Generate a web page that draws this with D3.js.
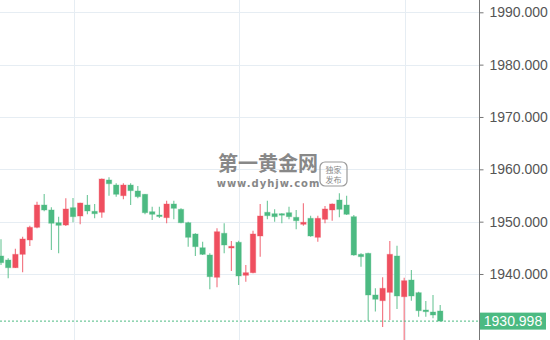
<!DOCTYPE html>
<html><head><meta charset="utf-8">
<script src="https://cdn.jsdelivr.net/npm/d3@7"></script>
<style>body{margin:0;background:#fff;}svg{display:block;font-family:"Liberation Sans",Arial,sans-serif;}</style>
</head><body>
<svg id="c" width="550" height="340"></svg>
<script>
const opens  = [1943.44,1942.67,1941.20,1943.76,1946.50,1948.92,1953.18,1952.23,1949.80,1949.36,1952.67,1951.08,1953.18,1951.98,1951.79,1957.96,1957.00,1954.96,1957.00,1955.86,1955.23,1951.90,1951.27,1950.76,1953.37,1952.36,1949.80,1947.64,1945.02,1943.63,1939.37,1947.78,1944.97,1946.06,1939.75,1940.25,1947.26,1951.79,1951.52,1951.52,1951.71,1950.83,1949.50,1950.64,1947.01,1950.45,1952.23,1954.14,1953.18,1950.95,1943.76,1943.95,1935.99,1934.90,1936.50,1943.44,1935.66,1938.85,1936.43,1933.12,1932.74,1932.93];
const highs  = [1946.63,1943.00,1944.83,1947.13,1949.23,1953.81,1955.28,1952.74,1950.95,1954.46,1954.52,1953.62,1955.09,1953.37,1958.25,1958.48,1957.33,1957.33,1957.33,1956.81,1955.28,1952.86,1952.86,1954.00,1954.00,1952.55,1949.99,1947.78,1946.17,1943.95,1948.73,1949.69,1946.30,1946.36,1941.72,1948.27,1953.37,1954.00,1952.36,1951.60,1952.86,1952.23,1953.51,1951.14,1951.14,1952.99,1953.47,1955.42,1954.96,1951.27,1943.95,1944.07,1937.27,1939.37,1946.30,1945.41,1939.29,1940.76,1936.62,1934.84,1935.99,1934.08];
const lows   = [1941.72,1939.18,1941.15,1940.32,1945.35,1948.73,1951.98,1944.59,1943.95,1949.17,1949.88,1949.50,1951.41,1950.64,1950.76,1954.96,1954.77,1954.27,1953.18,1954.46,1951.41,1950.32,1950.70,1949.69,1950.45,1949.69,1945.22,1943.44,1943.63,1937.08,1937.46,1943.95,1940.57,1937.90,1938.53,1940.13,1943.31,1950.45,1949.99,1949.69,1950.45,1948.54,1949.23,1947.13,1946.17,1949.69,1950.18,1950.83,1951.27,1943.50,1941.39,1931.02,1932.84,1929.87,1931.21,1933.31,1925.48,1934.90,1931.84,1931.84,1931.54,1930.998];
const closes = [1942.16,1941.20,1943.76,1946.69,1948.92,1953.18,1952.23,1949.69,1949.30,1952.42,1950.95,1953.56,1952.04,1951.52,1958.15,1957.25,1955.23,1957.00,1955.92,1954.77,1951.71,1951.41,1951.08,1953.37,1952.55,1949.80,1947.01,1945.22,1943.76,1939.48,1948.08,1945.54,1945.29,1939.62,1940.25,1947.64,1951.08,1951.14,1950.95,1951.33,1950.95,1950.18,1949.88,1947.26,1950.64,1952.42,1953.37,1952.36,1951.41,1943.63,1943.31,1935.99,1935.17,1937.27,1943.76,1935.80,1938.72,1935.80,1932.99,1932.80,1932.17,1930.998];
const yTicks = [1940,1950,1960,1970,1980,1990];
const vGridIdx = [10.1,33.05,56.1];
const lastPrice = 1930.998;

const W = 550, H = 340;
const svg = d3.select("#c");
const idx = d3.range(opens.length);
const x = d3.scaleLinear().domain([0, opens.length-1]).range([1, 440.2]);
const y = d3.scaleLinear().domain([1927.39, 1992.35]).range([340, 0]);
const axisX = 479;
const RED = "#ef4f5f", GREEN = "#4cba82";

// grid
svg.append("g").selectAll("line").data(yTicks).join("line")
  .attr("x1",0).attr("x2",axisX).attr("y1",d=>Math.round(y(d))+0.5).attr("y2",d=>Math.round(y(d))+0.5)
  .attr("stroke","#e6edf3").attr("stroke-width",1);
svg.append("g").selectAll("line").data(vGridIdx).join("line")
  .attr("x1",d=>Math.round(x(d))+0.5).attr("x2",d=>Math.round(x(d))+0.5).attr("y1",0).attr("y2",H)
  .attr("stroke","#e6edf3").attr("stroke-width",1);

// watermark
const wm = svg.append("g");
wm.append("text").attr("x",268).attr("y",171).attr("text-anchor","middle")
  .attr("font-family","'Noto Sans CJK SC',sans-serif").attr("font-weight","bold").attr("font-size",20)
  .attr("fill","#888").text("第一黄金网");
wm.append("text").attr("x",268.5).attr("y",186.5).attr("text-anchor","middle")
  .attr("font-family","'DejaVu Sans',sans-serif").attr("font-weight","bold").attr("font-size",10)
  .attr("letter-spacing",1).attr("fill","#888").text("www.dyhjw.com");
wm.append("rect").attr("x",320).attr("y",162).attr("width",27).attr("height",24).attr("rx",5)
  .attr("fill","none").attr("stroke","#9a9a9a").attr("stroke-width",1.2);
wm.append("text").attr("x",333.5).attr("y",172.5).attr("text-anchor","middle")
  .attr("font-family","'Noto Sans CJK SC',sans-serif").attr("font-size",8).attr("fill","#888").text("独家");
wm.append("text").attr("x",333.5).attr("y",182.5).attr("text-anchor","middle")
  .attr("font-family","'Noto Sans CJK SC',sans-serif").attr("font-size",8).attr("fill","#888").text("发布");

// candles
const col = i => closes[i] > opens[i] ? RED : GREEN;
const cg = svg.append("g");
cg.selectAll("line.w").data(idx).join("line").attr("class","w")
  .attr("x1",i=>x(i)).attr("x2",i=>x(i)).attr("y1",i=>y(highs[i])).attr("y2",i=>y(lows[i]))
  .attr("stroke",col).attr("stroke-opacity",0.75).attr("stroke-width",1.2);
cg.selectAll("rect").data(idx).join("rect")
  .attr("x",i=>x(i)-2.7).attr("width",5.4)
  .attr("y",i=>y(Math.max(opens[i],closes[i])))
  .attr("height",i=>Math.max(1.5, Math.abs(y(opens[i])-y(closes[i]))))
  .attr("fill",col).attr("stroke",col).attr("stroke-opacity",0.35).attr("stroke-width",1);

// last price line
svg.append("line").attr("x1",0).attr("x2",axisX).attr("y1",y(lastPrice)).attr("y2",y(lastPrice))
  .attr("stroke",GREEN).attr("stroke-width",1).attr("stroke-dasharray","2,2");

// axis
const ax = svg.append("g").attr("transform",`translate(${axisX+0.5},0)`)
  .call(d3.axisRight(y).tickValues(yTicks).tickSize(4).tickPadding(6).tickFormat(d3.format(".3f")));
ax.select(".domain").attr("stroke","#777").attr("d",`M0,0V${H}`);
ax.selectAll(".tick line").attr("stroke","#777");
ax.selectAll(".tick text").attr("fill","#555").attr("font-size",14).attr("font-family","'Liberation Sans',Arial,sans-serif");

// price label
svg.append("rect").attr("x",480).attr("y",y(lastPrice)-8.5).attr("width",66).attr("height",17)
  .attr("fill",GREEN);
svg.append("text").attr("x",513).attr("y",y(lastPrice)+5).attr("text-anchor","middle")
  .attr("fill","#fff").attr("font-size",14).attr("font-family","'Liberation Sans',Arial,sans-serif")
  .text(d3.format(".3f")(lastPrice));
</script>
</body></html>
